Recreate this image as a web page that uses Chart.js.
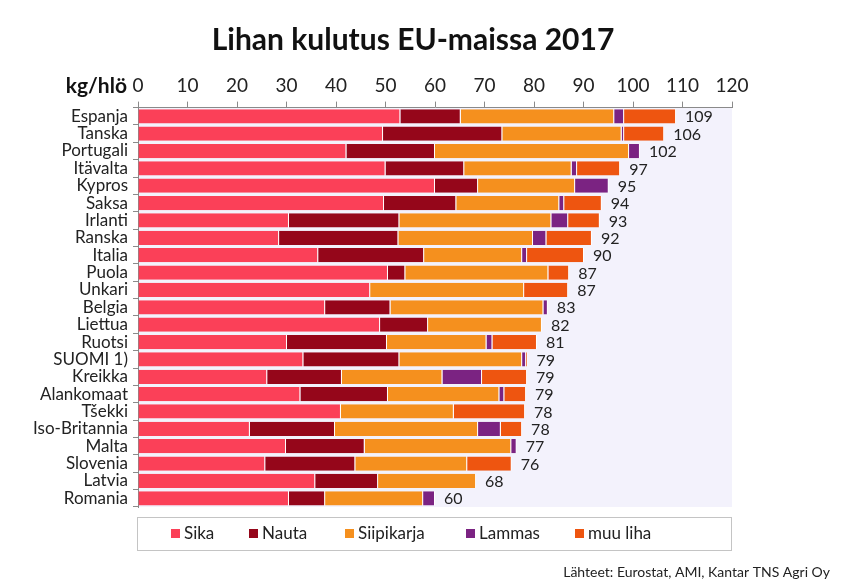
<!DOCTYPE html>
<html>
<head>
<meta charset="utf-8">
<script src="https://cdn.jsdelivr.net/npm/chart.js@4/dist/chart.umd.min.js"></script>
<style>
html,body{margin:0;padding:0;background:#fff;}
#wrap{width:850px;height:586px;position:relative;}
</style>
</head>
<body>
<div id="wrap"><canvas id="c" width="850" height="586"></canvas></div>
<script>
const countries = ["Espanja","Tanska","Portugali","Itävalta","Kypros","Saksa","Irlanti","Ranska","Italia","Puola","Unkari","Belgia","Liettua","Ruotsi","SUOMI 1)","Kreikka","Alankomaat","Tšekki","Iso-Britannia","Malta","Slovenia","Latvia","Romania"];
const sika       = [53.0,49.5,42.1,50.0,60.0,49.7,30.5,28.5,36.4,50.5,46.9,37.8,48.9,30.1,33.4,26.1,32.8,41.0,22.6,29.9,25.7,35.8,30.5];
const nauta      = [12.2,24.1,17.9,15.9, 8.7,14.6,22.3,24.1,21.4, 3.5, 0.0,13.2, 9.7,20.2,19.4,15.1,17.7, 0.0,17.2,15.9,18.2,12.7, 7.3];
const siipikarja = [31.0,24.1,39.2,21.7,19.6,20.8,30.7,27.2,19.8,28.9,31.1,30.9,23.0,20.1,24.8,20.3,22.5,22.8,28.9,29.6,22.6,19.8,19.8];
const lammas     = [ 2.0, 0.5, 2.2, 1.1, 6.8, 1.0, 3.4, 2.7, 1.0, 0.0, 0.0, 0.9, 0.0, 1.2, 0.8, 8.0, 1.0, 0.0, 4.6, 1.1, 0.0, 0.0, 2.4];
const muuLiha    = [10.5, 8.1, 0.0, 8.7, 0.0, 7.6, 6.4, 9.2,11.5, 4.2, 8.9, 0.0, 0.0, 9.0, 0.3, 9.1, 4.4,14.4, 4.3, 0.0, 9.0, 0.0, 0.0];
const totals     = [109,106,102,97,95,94,93,92,90,87,87,83,82,81,79,79,79,78,78,77,76,68,60];
const xTicks     = [0,10,20,30,40,50,60,70,80,90,100,110,120];
const seriesNames = ["Sika","Nauta","Siipikarja","Lammas","muu liha"];
const seriesColors = ["#fb4058","#95061a","#f5901e","#7b2382","#ee5510"];
const titleText = "Lihan kulutus EU-maissa 2017";
const unitText = "kg/hlö";
const sourceText = "Lähteet: Eurostat, AMI, Kantar TNS Agri Oy";

const FONT = "Lato, 'Open Sans', sans-serif";
const seriesValues = [sika, nauta, siipikarja, lammas, muuLiha];

const decor = {
  id: 'decor',
  beforeDraw(chart) {
    const {ctx, chartArea: a} = chart;
    ctx.save();
    ctx.fillStyle = '#f3f2fc';
    ctx.fillRect(a.left, a.top, a.right - a.left, a.bottom - a.top);
    ctx.restore();
  },
  afterDraw(chart) {
    const {ctx, chartArea: a} = chart;
    const xs = chart.scales.x, ys = chart.scales.y;
    ctx.save();
    // title
    ctx.fillStyle = '#111';
    ctx.font = "bold 30px " + FONT;
    ctx.textAlign = 'center';
    ctx.textBaseline = 'middle';
    ctx.fillText(titleText, 413, 40);
    // unit
    ctx.font = "bold 21px " + FONT;
    ctx.textAlign = 'right';
    ctx.fillText(unitText, 127, 86);
    // totals
    ctx.font = "16px " + FONT;
    ctx.textAlign = 'left';
    ctx.fillStyle = '#222';
    countries.forEach((c, i) => {
      let s = 0;
      seriesValues.forEach(arr => s += arr[i]);
      ctx.fillText(String(totals[i]), xs.getPixelForValue(s) + 9, ys.getPixelForValue(i) + 1);
    });
    // legend box
    ctx.strokeStyle = '#c4c4c4';
    ctx.lineWidth = 1;
    ctx.strokeRect(137.5, 517.5, 594, 33);
    const lx = [171, 249, 345, 466, 575];
    ctx.font = "17px " + FONT;
    seriesNames.forEach((n, k) => {
      ctx.fillStyle = seriesColors[k];
      ctx.fillRect(lx[k], 529, 9, 9);
      ctx.fillStyle = '#222';
      ctx.fillText(n, lx[k] + 13, 534);
    });
    // source
    ctx.font = "14px " + FONT;
    ctx.textAlign = 'right';
    ctx.fillStyle = '#222';
    ctx.fillText(sourceText, 830, 572);
    ctx.restore();
  }
};

const datasets = seriesNames.map((n, k) => ({
  label: n,
  data: seriesValues[k],
  backgroundColor: seriesColors[k],
  borderColor: '#ffffff',
  borderWidth: {left: 0, right: 1, top: 0, bottom: 0},
  borderSkipped: false,
  barPercentage: 0.82,
  categoryPercentage: 1.0
}));

new Chart(document.getElementById('c'), {
  type: 'bar',
  data: { labels: countries, datasets },
  options: {
    indexAxis: 'y',
    responsive: false,
    animation: false,
    layout: { padding: { top: 0, right: 118, bottom: 79, left: 0 } },
    plugins: { legend: { display: false }, tooltip: { enabled: false }, title: { display: false } },
    scales: {
      x: {
        position: 'top',
        stacked: true,
        min: 0, max: 120,
        afterBuildTicks(s) { s.ticks = xTicks.map(v => ({ value: v })); },
        afterFit(s) { s.height = 107.6; },
        grid: { drawOnChartArea: false, drawTicks: true, tickLength: 6, color: '#8a8a8a' },
        border: { display: true, color: '#8a8a8a' },
        ticks: { color: '#222', font: { family: FONT, size: 19 }, padding: 4, maxRotation: 0 }
      },
      y: {
        stacked: true,
        afterFit(s) { s.width = 138; },
        grid: { drawOnChartArea: false, drawTicks: true, tickLength: 5, color: '#8a8a8a' },
        border: { display: true, color: '#8a8a8a' },
        ticks: { color: '#222', font: { family: FONT, size: 17 }, padding: 5, autoSkip: false }
      }
    }
  },
  plugins: [decor]
});
</script>
</body>
</html>
